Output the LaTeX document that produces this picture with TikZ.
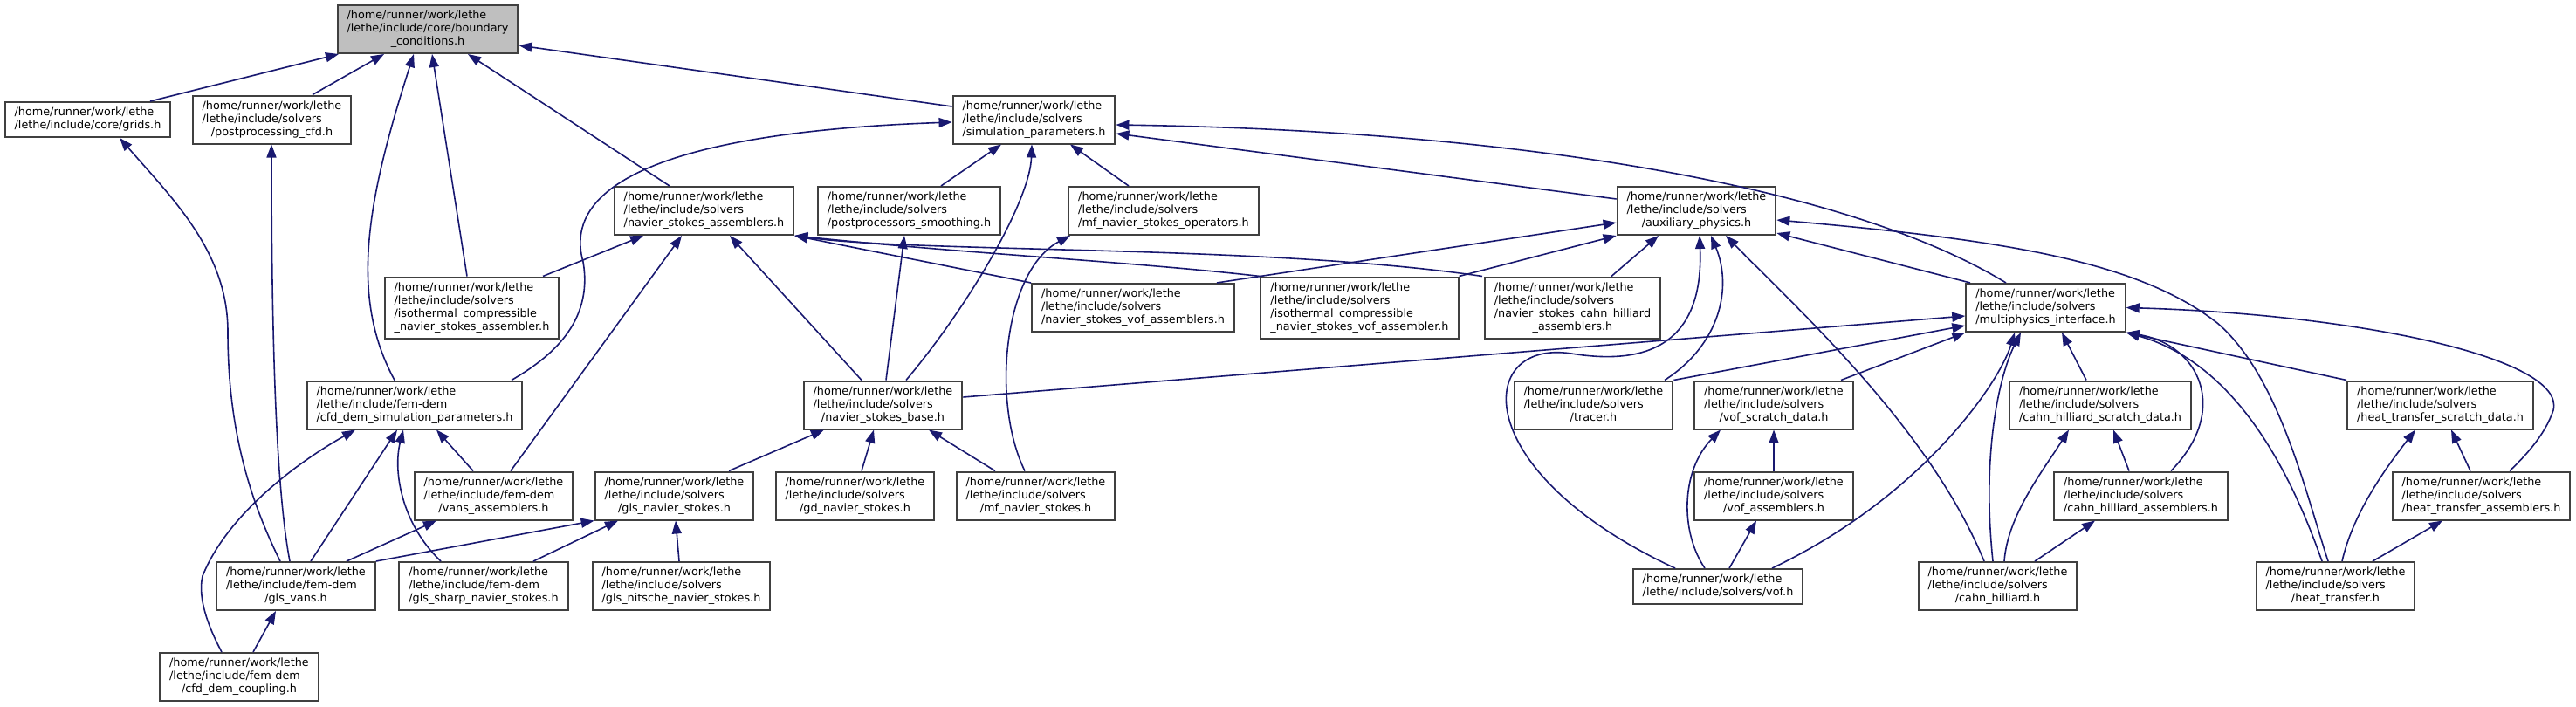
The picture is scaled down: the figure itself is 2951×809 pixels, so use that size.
\documentclass[tikz,border=0pt]{standalone}
\usepackage{fontspec}
\setmainfont{DejaVu Sans}
\usetikzlibrary{arrows.meta}
\definecolor{edgeblue}{HTML}{191970}
\definecolor{boxline}{HTML}{404040}
\definecolor{rootfill}{HTML}{BFBFBF}
\newcommand{\flines}[2]{\begin{tabular}{@{}l@{}}#1\\\multicolumn{1}{@{}c@{}}{#2}\end{tabular}}
\newcommand{\lhome}{/home/runner/work/lethe}
\newcommand{\lsolv}{/lethe/include/solvers}
\newcommand{\lfem}{/lethe/include/fem-dem}
\tikzset{
  every picture/.style={line width=1.6pt},
  file/.style={draw=boxline, fill=white, line width=2pt, inner xsep=11pt, inner ysep=5pt, font=\fontsize{12.8}{15}\selectfont},
  root/.style={file, fill=rootfill},
  dep/.style={{Triangle[length=15pt, width=11pt]}-, draw=edgeblue, line width=1.6pt},
}

\begin{document}
\begin{tikzpicture}[x=1pt, y=-1pt]
  \path[use as bounding box, fill=white] (0,0) rectangle (2951,809);

  \node[root] (bc) at (490,33.5) {\flines{\lhome\\/lethe/include/core/boundary}{\_conditions.h}};

  \node[file] (grids) at (100.5,137) {\flines{\lhome}{/lethe/include/core/grids.h}};
  \node[file] (pcfd) at (311.5,137) {\flines{\lhome\\\lsolv}{/postprocessing\_cfd.h}};
  \node[file] (sp) at (1184.5,137) {\flines{\lhome\\\lsolv}{/simulation\_parameters.h}};

  \node[file] (nsa) at (806.5,241.5) {\flines{\lhome\\\lsolv}{/navier\_stokes\_assemblers.h}};
  \node[file] (pps) at (1041.5,241.5) {\flines{\lhome\\\lsolv}{/postprocessors\_smoothing.h}};
  \node[file] (mfop) at (1333,241.5) {\flines{\lhome\\\lsolv}{/mf\_navier\_stokes\_operators.h}};
  \node[file] (ap) at (1943.5,241.5) {\flines{\lhome\\\lsolv}{/auxiliary\_physics.h}};

  \node[file] (icnsa) at (540.5,352.5) {\flines{\lhome\\\lsolv\\/isothermal\_compressible}{\_navier\_stokes\_assembler.h}};
  \node[file] (nsvof) at (1298,352.5) {\flines{\lhome\\\lsolv}{/navier\_stokes\_vof\_assemblers.h}};
  \node[file] (icnsvofa) at (1557.5,352.5) {\flines{\lhome\\\lsolv\\/isothermal\_compressible}{\_navier\_stokes\_vof\_assembler.h}};
  \node[file] (nschaa) at (1801.5,352.5) {\flines{\lhome\\\lsolv\\/navier\_stokes\_cahn\_hilliard}{\_assemblers.h}};
  \node[file] (mpi) at (2343.5,352.5) {\flines{\lhome\\\lsolv}{/multiphysics\_interface.h}};

  \node[file] (cdsp) at (475,464) {\flines{\lhome\\\lfem}{/cfd\_dem\_simulation\_parameters.h}};
  \node[file] (nsb) at (1011.5,464) {\flines{\lhome\\\lsolv}{/navier\_stokes\_base.h}};
  \node[file] (tracer) at (1825.5,464) {\flines{\lhome\\\lsolv}{/tracer.h}};
  \node[file] (vofsd) at (2032,464) {\flines{\lhome\\\lsolv}{/vof\_scratch\_data.h}};
  \node[file] (chsd) at (2406,464) {\flines{\lhome\\\lsolv}{/cahn\_hilliard\_scratch\_data.h}};
  \node[file] (htsd) at (2795.5,464) {\flines{\lhome\\\lsolv}{/heat\_transfer\_scratch\_data.h}};

  \node[file] (vans) at (565.5,568) {\flines{\lhome\\\lfem}{/vans\_assemblers.h}};
  \node[file] (glsns) at (772.5,568) {\flines{\lhome\\\lsolv}{/gls\_navier\_stokes.h}};
  \node[file] (gdns) at (979.5,568) {\flines{\lhome\\\lsolv}{/gd\_navier\_stokes.h}};
  \node[file] (mfns) at (1186.5,568) {\flines{\lhome\\\lsolv}{/mf\_navier\_stokes.h}};
  \node[file] (vofa) at (2032,568) {\flines{\lhome\\\lsolv}{/vof\_assemblers.h}};
  \node[file] (cha) at (2452.5,568) {\flines{\lhome\\\lsolv}{/cahn\_hilliard\_assemblers.h}};
  \node[file] (hta) at (2842.5,568) {\flines{\lhome\\\lsolv}{/heat\_transfer\_assemblers.h}};

  \node[file] (glsvans) at (339,671.5) {\flines{\lhome\\\lfem}{/gls\_vans.h}};
  \node[file] (glssharp) at (554,671.5) {\flines{\lhome\\\lfem}{/gls\_sharp\_navier\_stokes.h}};
  \node[file] (glsnitsche) at (780.5,671.5) {\flines{\lhome\\\lsolv}{/gls\_nitsche\_navier\_stokes.h}};
  \node[file] (vof) at (1968,672) {\flines{\lhome}{/lethe/include/solvers/vof.h}};
  \node[file] (ch) at (2288.5,671.5) {\flines{\lhome\\\lsolv}{/cahn\_hilliard.h}};
  \node[file] (ht) at (2675.5,671.5) {\flines{\lhome\\\lsolv}{/heat\_transfer.h}};

  \node[file] (cdcoupling) at (274,775.5) {\flines{\lhome\\\lfem}{/cfd\_dem\_coupling.h}};

  \draw[dep] (388,0 |- bc.south) -- (172,0 |- grids.north);
  \draw[dep] (440,0 |- bc.south) -- (358,0 |- pcfd.north);
  \draw[dep] (474,0 |- bc.south) .. controls (420,230) and (400,340) .. (452,0 |- cdsp.north);
  \draw[dep] (495,0 |- bc.south) -- (535,0 |- icnsa.north);
  \draw[dep] (536,0 |- bc.south) -- (767,0 |- nsa.north);
  \draw[dep] (bc.east |- 0,52) -- (sp.west |- 0,122);

  \draw[dep] (sp.west |- 0,140) .. controls (800,150) and (640,200) .. (668,300) .. controls (680,370) and (630,410) .. (586,0 |- cdsp.north);
  \draw[dep] (1147,0 |- sp.south) -- (1078,0 |- pps.north);
  \draw[dep] (1182,0 |- sp.south) .. controls (1180,230) and (1110,350) .. (1038,0 |- nsb.north);
  \draw[dep] (1226,0 |- sp.south) -- (1293,0 |- mfop.north);
  \draw[dep] (sp.east |- 0,153) -- (ap.west |- 0,228);
  \draw[dep] (sp.east |- 0,143) .. controls (1750,150) and (2120,215) .. (2298,0 |- mpi.north);

  \draw[dep] (737,0 |- nsa.south) -- (622,0 |- icnsa.north);
  \draw[dep] (781,0 |- nsa.south) -- (585,0 |- vans.north);
  \draw[dep] (836,0 |- nsa.south) -- (987,0 |- nsb.north);
  \draw[dep] (nsa.south east) -- (nsvof.north west);
  \draw[dep] (nsa.south east) .. controls (1100,290) and (1300,300) .. (icnsvofa.north west);
  \draw[dep] (nsa.south east) .. controls (1050,290) and (1450,280) .. (1698,0 |- nschaa.north);

  \draw[dep] (1036,0 |- pps.south) -- (1015,0 |- nsb.north);
  \draw[dep] (1226,0 |- mfop.south) .. controls (1150,310) and (1135,460) .. (1174,0 |- mfns.north);

  \draw[dep] (ap.west |- 0,255) -- (1394,0 |- nsvof.north);
  \draw[dep] (ap.south west) -- (icnsvofa.north east);
  \draw[dep] (1900,0 |- ap.south) -- (1846,0 |- nschaa.north);
  \draw[dep] (1947,0 |- ap.south) .. controls (1952,400) and (1880,418) .. (1800,405) .. controls (1690,388) and (1680,540) .. (1919,0 |- vof.north);
  \draw[dep] (1960,0 |- ap.south) .. controls (1985,330) and (1970,395) .. (1907,0 |- tracer.north);
  \draw[dep] (1977,0 |- ap.south) .. controls (2060,355) and (2210,490) .. (2273,0 |- ch.north);
  \draw[dep] (ap.east |- 0,267) -- (2257,0 |- mpi.north);
  \draw[dep] (ap.east |- 0,252) .. controls (2300,275) and (2450,300) .. (2540,370) .. controls (2610,430) and (2640,560) .. (2667,0 |- ht.north);

  \draw[dep] (mpi.west |- 0,362) -- (nsb.east |- 0,455);
  \draw[dep] (mpi.west |- 0,373) -- (tracer.north east);
  \draw[dep] (mpi.south west) -- (2109,0 |- vofsd.north);
  \draw[dep] (2308,0 |- mpi.south) .. controls (2290,440) and (2200,570) .. (2030,0 |- vof.north);
  \draw[dep] (2315,0 |- mpi.south) .. controls (2290,430) and (2270,520) .. (2283,0 |- ch.north);
  \draw[dep] (2362,0 |- mpi.south) -- (2390,0 |- chsd.north);
  \draw[dep] (mpi.south east) .. controls (2520,395) and (2555,470) .. (2487,0 |- cha.north);
  \draw[dep] (mpi.south east) .. controls (2540,410) and (2610,500) .. (2660,0 |- ht.north);
  \draw[dep] (mpi.south east) -- (htsd.north west);
  \draw[dep] (mpi.east) .. controls (2700,360) and (2940,410) .. (2925,470) .. controls (2915,500) and (2890,525) .. (2875,0 |- hta.north);

  \draw[dep] (2370,0 |- chsd.south) .. controls (2340,540) and (2300,590) .. (2296,0 |- ch.north);
  \draw[dep] (2421,0 |- chsd.south) -- (2439,0 |- cha.north);
  \draw[dep] (2400,0 |- cha.south) -- (2331,0 |- ch.north);
  \draw[dep] (2767,0 |- htsd.south) .. controls (2730,540) and (2695,590) .. (2683,0 |- ht.north);
  \draw[dep] (2808,0 |- htsd.south) -- (2830,0 |- hta.north);
  \draw[dep] (2798,0 |- hta.south) -- (2718,0 |- ht.north);
  \draw[dep] (1971,0 |- vofsd.south) .. controls (1925,540) and (1925,610) .. (1953,0 |- vof.north);
  \draw[dep] (vofsd) -- (vofa);
  \draw[dep] (2012,0 |- vofa.south) -- (1981,0 |- vof.north);

  \draw[dep] (137,0 |- grids.south) .. controls (200,230) and (261,290) .. (261,380) .. controls (261,500) and (290,580) .. (321,0 |- glsvans.north);
  \draw[dep] (311,0 |- pcfd.south) .. controls (311,450) and (320,580) .. (332,0 |- glsvans.north);
  \draw[dep] (455,0 |- cdsp.south) -- (356,0 |- glsvans.north);
  \draw[dep] (407,0 |- cdsp.south) .. controls (340,530) and (260,590) .. (232,660) .. controls (225,690) and (245,730) .. (254,0 |- cdcoupling.north);
  \draw[dep] (500,0 |- cdsp.south) -- (542,0 |- vans.north);
  \draw[dep] (462,0 |- cdsp.south) .. controls (450,540) and (460,600) .. (505,0 |- glssharp.north);
  \draw[dep] (316,0 |- glsvans.south) -- (290,0 |- cdcoupling.north);
  \draw[dep] (500,0 |- vans.south) -- (397,0 |- glsvans.north);
  \draw[dep] (glsns.south west) -- (glsvans.north east);
  \draw[dep] (708,0 |- glsns.south) -- (611,0 |- glssharp.north);
  \draw[dep] (774,0 |- glsns.south) -- (778,0 |- glsnitsche.north);

  \draw[dep] (944,0 |- nsb.south) -- (835,0 |- glsns.north);
  \draw[dep] (1001,0 |- nsb.south) -- (987,0 |- gdns.north);
  \draw[dep] (1064,0 |- nsb.south) -- (1140,0 |- mfns.north);
\end{tikzpicture}
\end{document}
